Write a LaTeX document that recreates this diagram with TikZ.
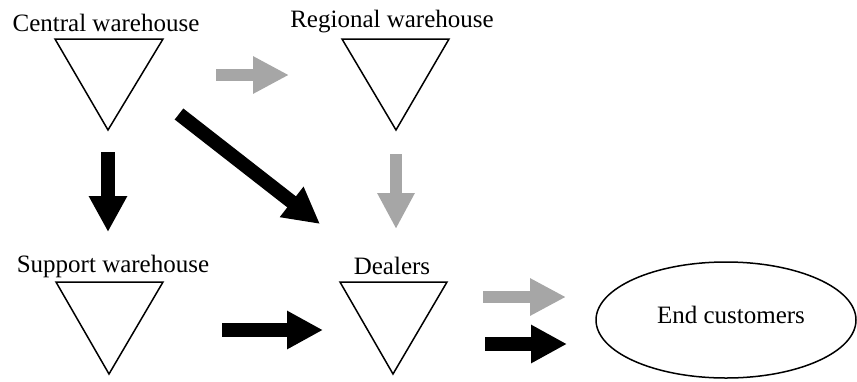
\documentclass[tikz,border=0pt]{standalone}
\usepackage{fontspec}
\setmainfont{Liberation Serif}
\usetikzlibrary{arrows.meta,shapes.geometric}
\definecolor{arrgray}{HTML}{A6A6A6}
\begin{document}
\begin{tikzpicture}[x=0.5pt,y=-0.5pt,
  lbl/.style={anchor=base,inner sep=0pt,font=\fontsize{12.5}{15}\selectfont},
  tri/.style={draw=black,line width=0.75pt,line join=miter},
  blk/.style={line width=7pt,black,line cap=butt,-{Triangle[length=18pt,width=18pt]}},
  gry/.style={line width=6pt,arrgray,line cap=butt,-{Triangle[length=18pt,width=17.5pt]}}]
\useasboundingbox (0,0) rectangle (857,381);

% labels
\node[lbl] (lcw) at (106,31) {Central warehouse};
\node[lbl] (lrw) at (392,27) {Regional warehouse};
\node[lbl] (lsw) at (113,272) {Support warehouse};
\node[lbl] (ldl) at (392,274) {Dealers};

% triangles
\coordinate (cwA) at (55,39);  \coordinate (cwB) at (163,39);  \coordinate (cwC) at (108,130);
\coordinate (rwA) at (342,39); \coordinate (rwB) at (449,39);  \coordinate (rwC) at (396,130);
\coordinate (swA) at (56,282); \coordinate (swB) at (163,282); \coordinate (swC) at (109,374);
\coordinate (dlA) at (340,282);\coordinate (dlB) at (447,282); \coordinate (dlC) at (393,374);
\draw[tri] (cwA) -- (cwB) -- (cwC) -- cycle;
\draw[tri] (rwA) -- (rwB) -- (rwC) -- cycle;
\draw[tri] (swA) -- (swB) -- (swC) -- cycle;
\draw[tri] (dlA) -- (dlB) -- (dlC) -- cycle;

% end customers
\node[draw=black,line width=0.75pt,ellipse,minimum width=130pt,minimum height=58pt,inner sep=0pt] (ec) at (726,320) {};
\node[lbl] (lec) at (731,323) {End customers};

% arrows
\coordinate (g1s) at (216,75);  \coordinate (g1e) at (289,75);
\coordinate (d1s) at (179,114); \coordinate (d1e) at (320,224);
\coordinate (v1s) at (108,152); \coordinate (v1e) at (108,232);
\coordinate (v2s) at (396,154); \coordinate (v2e) at (396,229);
\coordinate (h1s) at (222,330); \coordinate (h1e) at (323,330);
\coordinate (g2s) at (483,297); \coordinate (g2e) at (566,297);
\coordinate (h2s) at (485,344); \coordinate (h2e) at (567,344);
\draw[gry] (g1s) -- (g1e);
\draw[blk] (d1s) -- (d1e);
\draw[blk] (v1s) -- (v1e);
\draw[gry] (v2s) -- (v2e);
\draw[blk] (h1s) -- (h1e);
\draw[gry] (g2s) -- (g2e);
\draw[blk] (h2s) -- (h2e);
\end{tikzpicture}
\end{document}
